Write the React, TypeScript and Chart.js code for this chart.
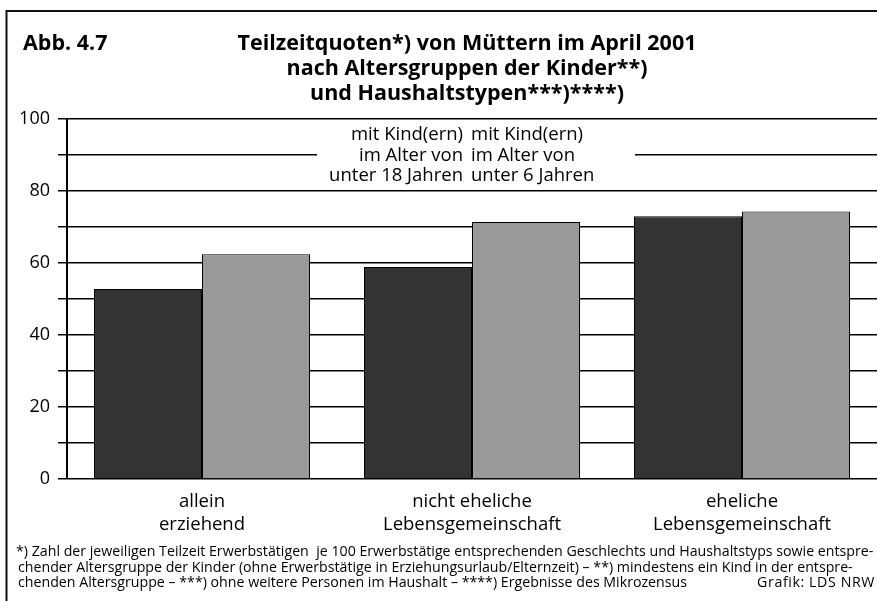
import React, { useEffect, useRef } from "react";
import { Chart, registerables } from "chart.js";

Chart.register(...registerables);

const categories: string[][] = [
  ["allein", "erziehend"],
  ["nicht eheliche", "Lebensgemeinschaft"],
  ["eheliche", "Lebensgemeinschaft"],
];
const under18: number[] = [52.8, 58.9, 73.0];
const under6: number[] = [62.4, 71.4, 74.3];
const legendLeft: string[] = ["mit Kind(ern)", "im Alter von", "unter 18 Jahren"];
const legendRight: string[] = ["mit Kind(ern)", "im Alter von", "unter 6 Jahren"];
const titleLines: string[] = [
  "Teilzeitquoten*) von Müttern im April 2001",
  "nach Altersgruppen der Kinder**)",
  "und Haushaltstypen***)****)",
];
const figLabel = "Abb. 4.7";
const footLines: string[] = [
  "*) Zahl der jeweiligen Teilzeit Erwerbstätigen  je 100 Erwerbstätige entsprechenden Geschlechts und Haushaltstyps sowie entspre-",
  "chender Altersgruppe der Kinder (ohne Erwerbstätige in Erziehungsurlaub/Elternzeit) – **) mindestens ein Kind in der entspre-",
  "chenden Altersgruppe – ***) ohne weitere Personen im Haushalt – ****) Ergebnisse des Mikrozensus",
];
const credit = "Grafik: LDS NRW";

const FONT = '"Open Sans", "Noto Sans", sans-serif';

const decorPlugin = {
  id: "decor",
  beforeDatasetsDraw(chart: any) {
    const ctx = chart.ctx as CanvasRenderingContext2D;
    ctx.save();
    ctx.fillStyle = "#ffffff";
    ctx.fillRect(317, 124, 318, 62);
    ctx.fillStyle = "#000";
    ctx.font = `18.5px ${FONT}`;
    ctx.textBaseline = "middle";
    const ys = [135, 155.5, 176];
    ctx.textAlign = "right";
    legendLeft.forEach((t, i) => ctx.fillText(t, 463, ys[i]));
    ctx.textAlign = "left";
    legendRight.forEach((t, i) => ctx.fillText(t, 471, ys[i]));
    ctx.restore();
  },
  afterDraw(chart: any) {
    const ctx = chart.ctx as CanvasRenderingContext2D;
    ctx.save();
    // frame
    ctx.strokeStyle = "#111";
    ctx.lineWidth = 2;
    ctx.beginPath();
    ctx.moveTo(6.5, 601);
    ctx.lineTo(6.5, 11);
    ctx.lineTo(877, 11);
    ctx.stroke();
    // titles
    ctx.fillStyle = "#000";
    ctx.textBaseline = "middle";
    ctx.font = `bold 21.5px ${FONT}`;
    ctx.textAlign = "left";
    ctx.fillText(figLabel, 23, 44);
    ctx.textAlign = "center";
    const ty = [44, 69, 94];
    titleLines.forEach((t, i) => ctx.fillText(t, 467, ty[i]));
    // footnote
    ctx.font = `14.2px ${FONT}`;
    ctx.textAlign = "left";
    const fy = [552, 568, 583];
    const fx = [16, 18, 18];
    const fw = [860, 858, 669];
    footLines.forEach((t, i) => ctx.fillText(t, fx[i], fy[i], fw[i]));
    ctx.textAlign = "right";
    (ctx as any).letterSpacing = "0.6px";
    ctx.fillText(credit, 875, fy[2]);
    ctx.restore();
  },
};

export default function App() {
  const ref = useRef<HTMLCanvasElement>(null);
  useEffect(() => {
    if (!ref.current) return;
    const chart = new Chart(ref.current, {
      type: "bar",
      data: {
        labels: categories,
        datasets: [
          {
            label: "unter 18 Jahren",
            data: under18,
            backgroundColor: "#333333",
            borderColor: "#000000",
            borderWidth: 1,
            categoryPercentage: 0.8,
            barPercentage: 1.0,
          },
          {
            label: "unter 6 Jahren",
            data: under6,
            backgroundColor: "#999999",
            borderColor: "#000000",
            borderWidth: 1,
            categoryPercentage: 0.8,
            barPercentage: 1.0,
          },
        ],
      },
      options: {
        responsive: false,
        animation: false,
        devicePixelRatio: 1,
        layout: { padding: { top: 119, left: 0, right: 0, bottom: 0 } },
        plugins: {
          legend: { display: false },
          title: { display: false },
          tooltip: { enabled: false },
        },
        scales: {
          x: {
            grid: { display: false },
            border: { display: false },
            ticks: {
              color: "#000",
              font: { family: FONT, size: 18.5, lineHeight: 1.25 },
              padding: 3,
              maxRotation: 0,
            },
            afterFit: (s: any) => {
              s.height = 122;
            },
          },
          y: {
            min: 0,
            max: 100,
            grid: {
              color: "#000",
              lineWidth: 1.5,
              tickLength: 9,
              tickColor: "#000",
            },
            border: { display: true, color: "#000", width: 2 },
            ticks: {
              stepSize: 10,
              color: "#000",
              font: { family: FONT, size: 18 },
              padding: 8,
              callback: (v: any) => (Number(v) % 20 === 0 ? String(v) : ""),
            },
            afterFit: (s: any) => {
              s.width = 67;
            },
          },
        },
      },
      plugins: [decorPlugin],
    });
    return () => chart.destroy();
  }, []);
  return (
    <div style={{ position: "absolute", left: 0, top: 0, width: 877, height: 601, overflow: "hidden", background: "#fff" }}>
      <canvas ref={ref} width={877} height={601} style={{ display: "block" }} />
    </div>
  );
}
